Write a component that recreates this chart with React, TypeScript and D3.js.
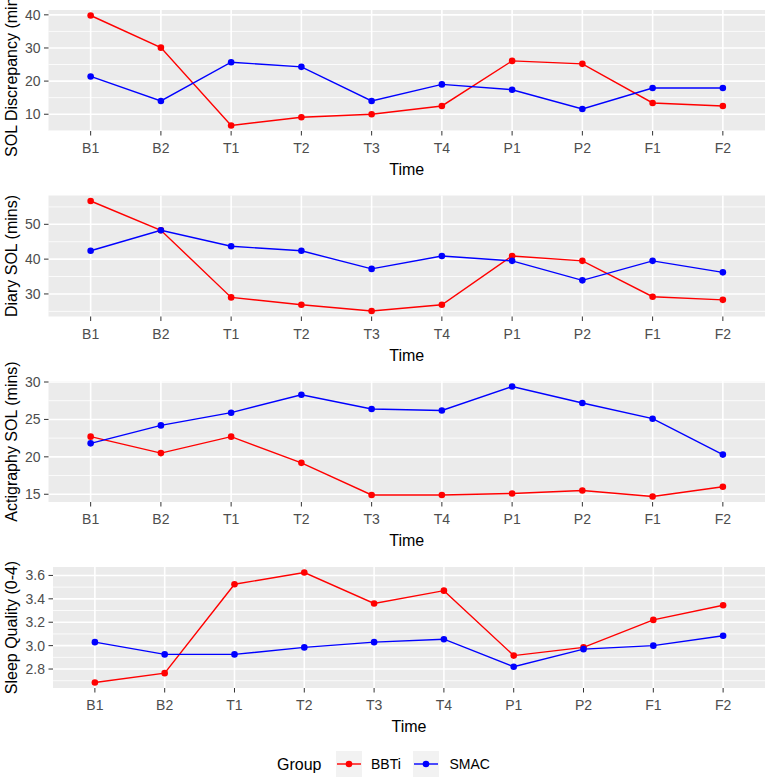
import React from "react";
import * as d3 from "d3";

const times = ["B1", "B2", "T1", "T2", "T3", "T4", "P1", "P2", "F1", "F2"];
const groups = ["BBTi", "SMAC"];
const groupColors = ["#FF0000", "#0000FF"];

const discBBTi = [39.8, 30.1, 6.6, 9.1, 10.0, 12.5, 26.1, 25.2, 13.4, 12.5];
const discSMAC = [21.4, 14.0, 25.7, 24.3, 14.0, 19.0, 17.4, 11.6, 17.9, 17.9];

const diaryBBTi = [56.7, 48.3, 29.0, 26.9, 25.1, 26.9, 40.9, 39.5, 29.2, 28.3];
const diarySMAC = [42.4, 48.3, 43.7, 42.4, 37.2, 40.9, 39.5, 33.9, 39.5, 36.2];

const actiBBTi = [22.7, 20.5, 22.7, 19.2, 14.9, 14.9, 15.1, 15.5, 14.7, 16.0];
const actiSMAC = [21.8, 24.2, 25.9, 28.3, 26.4, 26.2, 29.4, 27.2, 25.1, 20.3];

const sleepBBTi = [2.685, 2.765, 3.525, 3.625, 3.36, 3.47, 2.915, 2.985, 3.22, 3.345];
const sleepSMAC = [3.03, 2.925, 2.925, 2.985, 3.03, 3.055, 2.82, 2.97, 3.0, 3.085];

const yTitles = ["SOL Discrepancy (mins)", "Diary SOL (mins)", "Actigraphy SOL (mins)", "Sleep Quality (0-4)"];
const yTicks1 = [10, 20, 30, 40];
const yTicks2 = [30, 40, 50];
const yTicks3 = [15, 20, 25, 30];
const yTicks4 = [2.8, 3.0, 3.2, 3.4, 3.6];
const xTitle = "Time";
const legendTitle = "Group";

const panels = [
  { series: [discBBTi, discSMAC], ticks: yTicks1, fmt: (v: number) => String(v), title: yTitles[0] },
  { series: [diaryBBTi, diarySMAC], ticks: yTicks2, fmt: (v: number) => String(v), title: yTitles[1] },
  { series: [actiBBTi, actiSMAC], ticks: yTicks3, fmt: (v: number) => String(v), title: yTitles[2] },
  { series: [sleepBBTi, sleepSMAC], ticks: yTicks4, fmt: (v: number) => v.toFixed(1), title: yTitles[3] },
];

const tops = [10, 195.5, 381, 567];
const lefts = [48.5, 48.5, 48.5, 53];
const RIGHT = 765;
const H = 121;
const FONT = "'Liberation Sans', Arial, Helvetica, sans-serif";

function Panel({ idx }: { idx: number }) {
  const p = panels[idx];
  const top = tops[idx];
  const left = lefts[idx];
  const bottom = top + H;
  const all = p.series.flat();
  const [mn, mx] = d3.extent(all) as [number, number];
  const r = mx - mn;
  const y = d3.scaleLinear().domain([mn - 0.05 * r, mx + 0.05 * r]).range([bottom, top]);
  const x = d3.scalePoint<string>().domain(times).range([left, RIGHT]).padding(0.6);
  const step = p.ticks[1] - p.ticks[0];
  const minors: number[] = [];
  for (let v = p.ticks[0] - step / 2; v <= p.ticks[p.ticks.length - 1] + step; v += step) {
    const [d0, d1] = y.domain();
    if (v >= d0 && v <= d1) minors.push(v);
  }
  const line = d3
    .line<number>()
    .x((_, i) => x(times[i]) as number)
    .y((d) => y(d));
  const cy = (top + bottom) / 2;
  return (
    <g>
      <rect x={left} y={top} width={RIGHT - left} height={H} fill="#EBEBEB" />
      {minors.map((v, i) => (
        <line key={"mn" + i} x1={left} x2={RIGHT} y1={y(v)} y2={y(v)} stroke="#FFFFFF" strokeWidth={0.8} />
      ))}
      {p.ticks.map((v, i) => (
        <line key={"mj" + i} x1={left} x2={RIGHT} y1={y(v)} y2={y(v)} stroke="#FFFFFF" strokeWidth={1.6} />
      ))}
      {times.map((t) => (
        <line key={"vx" + t} x1={x(t)} x2={x(t)} y1={top} y2={bottom} stroke="#FFFFFF" strokeWidth={1.6} />
      ))}
      {p.series.map((s, gi) => (
        <path key={"ln" + gi} d={line(s) || ""} fill="none" stroke={groupColors[gi]} strokeWidth={1.4} />
      ))}
      {p.series.map((s, gi) =>
        s.map((v, i) => (
          <circle key={"pt" + gi + "-" + i} cx={x(times[i])} cy={y(v)} r={3.3} fill={groupColors[gi]} />
        ))
      )}
      {p.ticks.map((v, i) => (
        <g key={"yt" + i}>
          <line x1={left - 4.5} x2={left} y1={y(v)} y2={y(v)} stroke="#333333" strokeWidth={1} />
          <text x={left - 8} y={y(v)} dy="0.35em" textAnchor="end" fontSize={14} fill="#4D4D4D" fontFamily={FONT}>
            {p.fmt(v)}
          </text>
        </g>
      ))}
      {times.map((t) => (
        <g key={"xt" + t}>
          <line x1={x(t)} x2={x(t)} y1={bottom} y2={bottom + 4.5} stroke="#333333" strokeWidth={1} />
          <text x={x(t)} y={bottom + 22} textAnchor="middle" fontSize={14} fill="#4D4D4D" fontFamily={FONT}>
            {t}
          </text>
        </g>
      ))}
      <text x={(left + RIGHT) / 2} y={bottom + 44} textAnchor="middle" fontSize={16} fill="#000000" fontFamily={FONT}>
        {xTitle}
      </text>
      <text
        transform={`translate(17,${cy}) rotate(-90)`}
        textAnchor="middle"
        fontSize={16}
        fill="#000000"
        fontFamily={FONT}
      >
        {p.title}
      </text>
    </g>
  );
}

function Legend() {
  const keyX = [336, 413];
  const labelX = [371, 449.5];
  const yc = 764;
  return (
    <g>
      <text x={277} y={yc} dy="0.35em" fontSize={16} fill="#000000" fontFamily={FONT}>
        {legendTitle}
      </text>
      {groups.map((g, i) => (
        <g key={g}>
          <rect x={keyX[i]} y={yc - 13} width={26} height={26} fill="#F2F2F2" />
          <line x1={keyX[i] + 1} x2={keyX[i] + 25} y1={yc} y2={yc} stroke={groupColors[i]} strokeWidth={1.4} />
          <circle cx={keyX[i] + 13} cy={yc} r={3.3} fill={groupColors[i]} />
          <text x={labelX[i]} y={yc} dy="0.35em" fontSize={14} fill="#000000" fontFamily={FONT}>
            {g}
          </text>
        </g>
      ))}
    </g>
  );
}

export default function App() {
  return (
    <svg
      width={770}
      height={780}
      style={{ position: "absolute", left: 0, top: 0, background: "#FFFFFF", display: "block" }}
    >
      <rect x={0} y={0} width={770} height={780} fill="#FFFFFF" />
      {panels.map((_, i) => (
        <Panel key={i} idx={i} />
      ))}
      <Legend />
    </svg>
  );
}
